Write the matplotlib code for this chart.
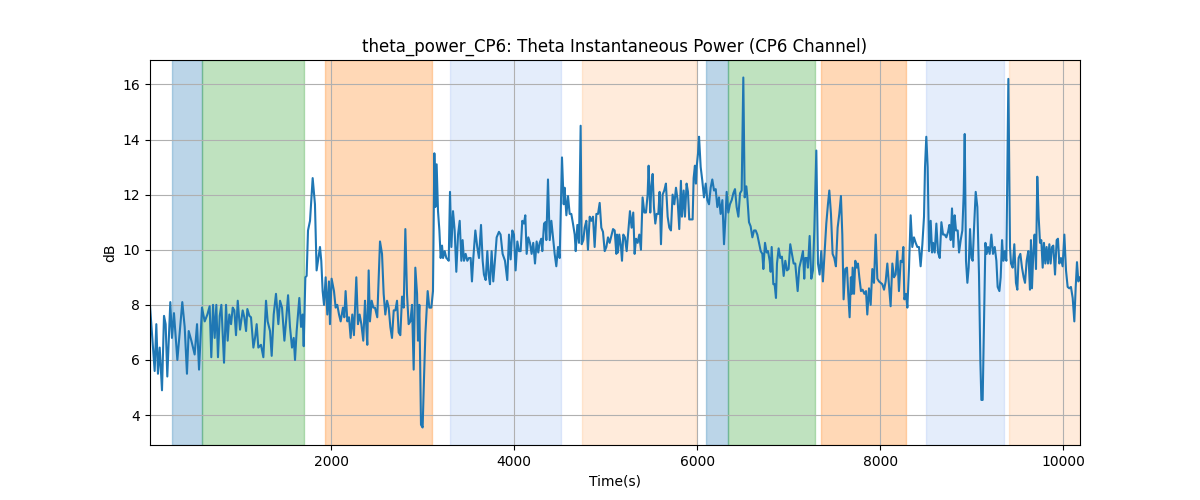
import matplotlib.pyplot as plt

# Time (s) and theta power (dB)
time_s = [
    20, 71, 89, 107, 126, 151, 173, 191, 209, 242, 260, 282, 319, 373, 399, 424, 443, 472, 508, 534,
    556, 588, 618, 647, 672, 690, 709, 727, 745, 763, 782, 800, 829,
    851, 869, 887, 906, 924, 942, 960, 979, 1004, 1033, 1051, 1070, 1084, 1106, 1124, 1150, 1168, 1186,
    1204, 1233, 1259, 1288, 1306, 1332, 1350, 1372, 1397, 1423, 1441, 1463, 1489, 1507, 1529, 1550,
    1572, 1591, 1605, 1623, 1652, 1671, 1689, 1700, 1718,
    1732, 1747, 1769, 1798, 1823, 1841, 1860, 1878, 1892, 1907, 1922, 1940, 1958, 1976, 1987, 2005,
    2031, 2049, 2067, 2086, 2104, 2129, 2144, 2158, 2177, 2195, 2213, 2231, 2249, 2275, 2293, 2311,
    2330, 2351, 2370, 2381, 2395, 2410, 2424, 2443, 2461, 2479, 2504, 2534,
    2556, 2574, 2592, 2611, 2629, 2647, 2665, 2684, 2702, 2720, 2738, 2756, 2775, 2793, 2811, 2829,
    2847, 2866, 2884, 2902, 2920, 2939, 2949, 2964, 2982, 3000, 3015, 3030, 3055, 3073, 3095, 3113,
    3128, 3139, 3153, 3168, 3183, 3197, 3212, 3223, 3241, 3259, 3274, 3285, 3299, 3314, 3332, 3350,
    3368, 3387, 3405, 3423,
    3437, 3452, 3470, 3488, 3506, 3525, 3539, 3554, 3576, 3597, 3616, 3638, 3656, 3670, 3689, 3707,
    3721, 3736, 3754, 3772, 3790, 3809, 3834, 3852, 3874, 3900, 3925, 3944, 3962, 3980, 3998, 4016,
    4035, 4053, 4071, 4089, 4107, 4122, 4137, 4155, 4173, 4191, 4209, 4228, 4246, 4264,
    4279, 4297, 4308, 4327, 4341, 4352, 4370, 4389, 4407, 4425, 4443, 4461, 4480, 4498, 4523, 4542,
    4552, 4571, 4589, 4607, 4625, 4643, 4662, 4673, 4691, 4709, 4727, 4738, 4756, 4771, 4789, 4807,
    4826, 4844, 4862, 4880, 4899, 4917, 4935, 4953, 4971, 4990, 5008, 5026, 5044, 5062, 5081, 5099, 5117,
    5124, 5135, 5149, 5168, 5179, 5193, 5211, 5230, 5248, 5266, 5284, 5302, 5317, 5332, 5350, 5368,
    5386, 5404, 5423, 5441, 5459, 5470, 5488, 5499, 5514, 5528, 5543, 5557, 5576, 5590, 5605, 5623,
    5641, 5659, 5678, 5696, 5714, 5732, 5751, 5769, 5787, 5805, 5823, 5834, 5853, 5867, 5885, 5900,
    5914, 5933, 5951, 5962, 5976, 5987,
    5995, 6010, 6021, 6039, 6057, 6075, 6094, 6112, 6130, 6148, 6166, 6185, 6203, 6221, 6239, 6257,
    6276, 6294, 6312, 6323, 6341, 6359, 6378, 6396, 6414, 6432, 6451, 6469, 6487, 6505, 6520, 6538,
    6549, 6567, 6585, 6604, 6622, 6640, 6658, 6676, 6695, 6713, 6724, 6742, 6760, 6775, 6793, 6804,
    6815, 6833,
    6847, 6862, 6873, 6891, 6909, 6927, 6946, 6964, 6982, 7000, 7018, 7037, 7055, 7073, 7099, 7117,
    7135, 7157, 7171, 7182, 7200, 7211, 7230, 7248, 7266, 7281, 7303, 7321, 7339, 7357, 7375, 7394,
    7412, 7430, 7445, 7463, 7481, 7499, 7517, 7536, 7554, 7572, 7587, 7601, 7619, 7638, 7652, 7667,
    7681, 7692,
    7700, 7715, 7729, 7744, 7758, 7773, 7791, 7809, 7828, 7846, 7860, 7879, 7897, 7915, 7933, 7952,
    7970, 7988, 8006, 8024, 8043, 8061, 8079, 8097, 8115, 8134, 8152, 8170, 8188, 8206, 8225, 8243,
    8254, 8265, 8283, 8298, 8316, 8334, 8352, 8370, 8389, 8407, 8425, 8443, 8462, 8480, 8491, 8505, 8520,
    8535, 8553, 8568, 8579, 8597, 8615, 8633, 8652, 8670, 8688, 8706, 8724, 8743, 8757, 8772, 8786,
    8801, 8815, 8830, 8848, 8863, 8881, 8899, 8914, 8925, 8939, 8954, 8968, 8983, 8998, 9012, 9027,
    9045, 9063, 9081, 9096, 9107, 9121, 9136, 9151, 9165, 9180, 9198, 9216, 9234, 9253, 9271, 9285,
    9304, 9318, 9333, 9347, 9362, 9380,
    9402, 9420, 9431, 9449, 9467, 9485, 9500, 9514, 9533, 9551, 9569, 9584, 9602, 9620, 9638, 9649,
    9660, 9675, 9689, 9704, 9718, 9733, 9748, 9762, 9777, 9791, 9806, 9820, 9835, 9850, 9864, 9879,
    9893, 9912, 9930, 9944, 9959, 9977, 9995, 10014, 10032, 10050, 10068, 10086, 10105, 10123, 10138,
    10152, 10167, 10185,
]
power_db = [
    7.96, 5.6, 7.3, 5.5, 6.45, 4.9, 7.6, 7.3, 5.4, 8.1, 6.8, 7.7, 6.0, 8.1, 7.2, 5.5, 7.05, 6.7, 6.2, 7.3,
    5.65, 7.9, 7.4, 7.65, 7.95, 6.1, 8.0, 6.8, 8.0, 6.1, 7.6, 8.0, 5.9,
    8.0, 6.7, 7.65, 7.3, 7.9, 7.8, 6.9, 8.15, 7.1, 7.8, 7.55, 7.05, 7.85, 7.6, 7.55, 6.45, 6.8, 7.3,
    6.45, 6.55, 6.1, 8.15, 7.4, 7.05, 6.15, 7.65, 8.4, 7.3, 8.15, 7.9, 6.7, 7.4, 8.35, 7.2,
    6.45, 6.8, 6.0, 7.05, 8.25, 7.2, 7.65, 6.5, 9.0,
    9.05, 10.7, 11.05, 12.6, 11.65, 9.25, 9.7, 10.1, 9.6, 8.5, 8.0, 9.0, 7.65, 8.85, 7.3, 8.95,
    8.5, 7.9, 8.0, 7.65, 7.4, 7.9, 7.55, 8.5, 7.4, 7.55, 6.8, 7.65, 6.9, 9.0, 7.3, 7.65,
    7.3, 6.7, 8.15, 7.4, 6.55, 9.25, 7.4, 8.15, 7.9, 7.9, 7.55, 10.3,
    9.85, 8.4, 7.65, 8.15, 7.9, 7.2, 6.8, 7.8, 7.8, 8.15, 7.0, 6.9, 8.3, 7.9, 10.75, 8.4,
    7.3, 7.4, 8.0, 5.65, 9.35, 8.4, 6.7, 8.0, 3.65, 3.55, 5.35, 6.95, 8.5, 7.9, 7.9, 8.5,
    13.5, 11.55, 13.1, 11.4, 10.7, 9.7, 10.15, 9.7, 9.95, 9.7, 9.65, 9.6, 12.1, 10.1, 11.4, 10.7,
    9.2, 10.55, 11.05, 9.6,
    10.35, 9.6, 9.85, 9.6, 9.7, 9.7, 8.85, 9.7, 10.7, 10.1, 9.7, 10.9, 9.6, 9.1, 8.9, 9.95,
    9.1, 8.75, 9.95, 8.85, 9.6, 10.45, 10.65, 10.55, 9.85, 9.6, 8.9, 10.55, 9.65, 10.7, 10.55, 9.25,
    10.3, 9.95, 9.95, 11.05, 10.95, 11.25, 9.85, 10.45, 10.25, 9.85, 10.25, 9.5, 10.3, 9.9,
    10.25, 10.4, 9.95, 10.95, 11.0, 10.35, 12.55, 10.35, 11.05, 10.45, 9.85, 9.4, 10.1, 9.7, 13.35, 11.65,
    12.25, 11.25, 11.95, 11.3, 11.3, 10.95, 10.55, 9.95, 10.9, 10.25, 14.5, 10.2, 10.35, 10.8, 11.05, 10.0,
    11.2, 11.05, 11.2, 10.1, 11.3, 11.3, 11.7, 10.8, 10.65, 9.95, 10.1, 10.45, 10.25, 10.5, 10.75, 10.7, 9.85,
    10.55, 9.9, 10.55, 10.1, 9.6, 10.55, 10.45, 9.95, 10.7, 11.4, 10.8, 11.35, 9.85, 10.4, 10.25, 10.55,
    10.0, 11.9, 11.35, 11.35, 12.0, 13.05, 11.35, 12.25, 12.75, 11.55, 10.95, 11.3, 11.3, 12.1, 10.2, 12.0,
    12.15, 12.4, 11.2, 10.8, 10.7, 12.0, 11.65, 12.25, 11.8, 10.75, 12.5, 11.2, 12.15, 11.2, 12.4, 12.1,
    11.1, 11.1, 11.1, 12.6, 13.05, 12.4,
    13.0, 13.5, 14.1, 13.0, 12.5, 11.9, 12.4, 11.8, 11.65, 12.25, 12.55, 12.15, 12.2, 11.55, 11.9, 11.3,
    11.8, 10.2, 11.3, 12.1, 11.35, 11.65, 11.8, 12.05, 12.2, 11.55, 11.2, 12.05, 12.15, 16.25, 11.9, 12.3,
    11.9, 11.0, 10.85, 10.45, 10.7, 10.7, 10.55, 10.25, 9.95, 9.85, 9.3, 10.25, 9.9, 9.95, 9.6, 9.2,
    10.1, 8.75,
    8.75, 8.25, 9.5, 10.05, 9.7, 9.75, 9.05, 9.6, 9.25, 9.3, 10.2, 9.85, 9.5, 9.5, 8.5, 9.35,
    9.6, 9.95, 8.95, 9.7, 9.7, 9.35, 10.5, 8.95, 9.25, 10.7, 13.6, 9.5, 9.1, 9.95, 8.85, 9.95,
    10.95, 11.65, 12.15, 11.3, 9.85, 9.7, 9.4, 10.8, 11.3, 11.95, 10.55, 8.2, 9.3, 9.35, 8.4, 7.55,
    9.0, 8.4,
    9.35, 8.4, 9.6, 9.35, 9.5, 9.0, 8.5, 8.55, 8.4, 8.5, 7.65, 8.6, 8.0, 9.3, 8.8, 10.55,
    8.95, 8.85, 8.8, 8.75, 8.55, 8.85, 9.5, 8.75, 7.95, 9.5, 9.0, 9.1, 9.95, 8.5, 9.6, 9.55,
    10.1, 8.2, 8.4, 7.9, 9.35, 11.25, 10.1, 10.45, 10.25, 10.1, 10.1, 9.4, 10.2, 11.2, 13.0, 14.1, 13.0,
    9.95, 11.05, 9.9, 10.25, 9.9, 10.95, 9.9, 9.7, 11.0, 10.55, 10.55, 10.45, 10.65, 10.9, 10.35, 11.5,
    10.1, 11.25, 10.7, 10.7, 9.9, 10.35, 10.7, 12.05, 14.2, 9.6, 8.8, 9.35, 10.75, 9.7, 9.6, 10.8,
    12.1, 11.55, 9.1, 5.95, 4.55, 4.55, 7.4, 10.25, 9.85, 10.1, 9.85, 10.55, 9.85, 10.1, 9.6, 8.65,
    8.5, 9.0, 10.35, 9.6, 9.95, 9.6,
    16.2, 10.1, 9.5, 9.35, 10.2, 8.8, 8.55, 9.7, 9.85, 9.35, 9.0, 8.8, 9.6, 9.95, 8.55, 10.35,
    8.6, 9.9, 10.55, 9.3, 12.65, 11.2, 10.25, 10.35, 9.35, 10.25, 9.5, 10.1, 9.5, 10.2, 9.5, 10.1,
    10.15, 9.1, 10.35, 10.4, 9.5, 9.7, 9.4, 10.55, 9.25, 8.65, 8.6, 8.65, 8.25, 7.4, 8.65,
    9.55, 8.85, 9.0,
]

# Shaded intervals (start, end) and their colour / alpha
span_start = [260, 588, 1933, 3299, 4741, 6096, 6337, 7353, 8501, 9408]
span_end = [588, 1703, 3102, 4512, 5987, 6337, 7288, 8282, 9353, 10185]
span_color = ['tab:blue', 'tab:green', 'tab:orange', 'cornflowerblue', 'tab:orange',
              'tab:blue', 'tab:green', 'tab:orange', 'cornflowerblue', 'tab:orange']
span_alpha = [0.3, 0.3, 0.3, 0.17, 0.15, 0.3, 0.3, 0.3, 0.17, 0.15]

fig, ax = plt.subplots(figsize=(12, 5), dpi=100)

for s, e, c, a in zip(span_start, span_end, span_color, span_alpha):
    ax.axvspan(s, e, color=c, alpha=a)

ax.plot(time_s, power_db, color='tab:blue', linewidth=1.5)

ax.set_xlim(time_s[0], time_s[-1])
ax.set_title('theta_power_CP6: Theta Instantaneous Power (CP6 Channel)')
ax.set_xlabel('Time(s)')
ax.set_ylabel('dB')
ax.grid(True)

plt.savefig('out.png')
